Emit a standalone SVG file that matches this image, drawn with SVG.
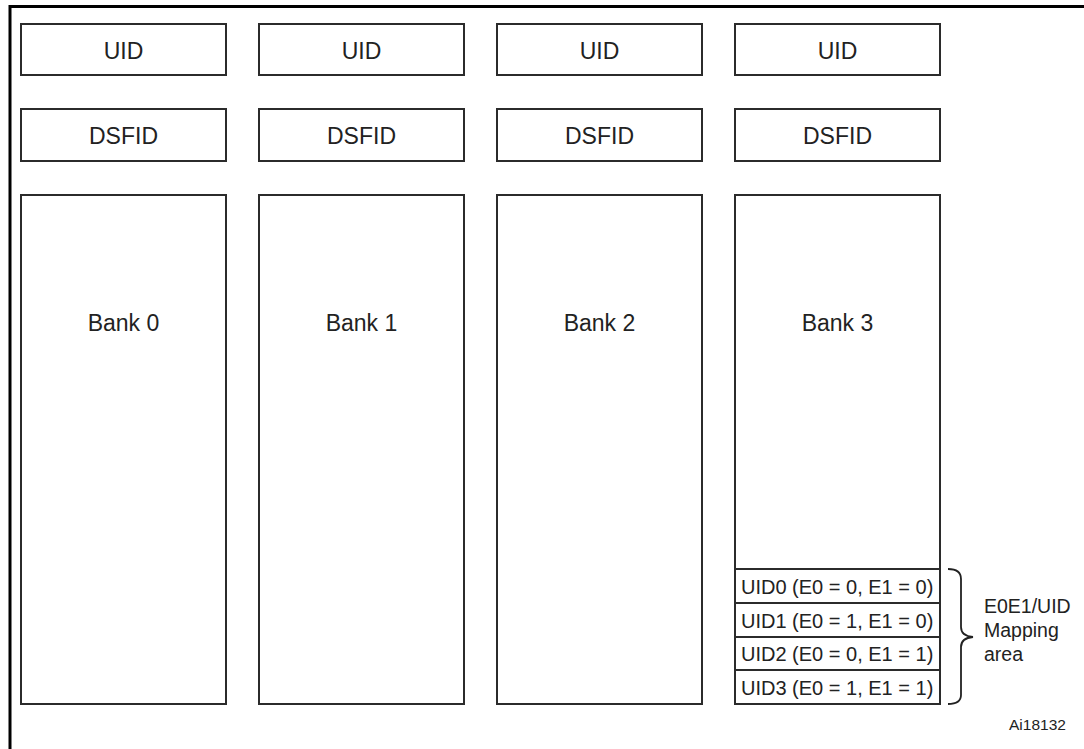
<svg xmlns="http://www.w3.org/2000/svg" width="1084" height="749" viewBox="0 0 1084 749">
<style>
.box{fill:#fff;stroke:#2b2b2b;stroke-width:2}
.t{font-family:"Liberation Sans",Arial,sans-serif;fill:#222;text-anchor:middle}
.big{font-size:23px}
.lbl{font-family:"Liberation Sans",Arial,sans-serif;fill:#222;font-size:19.5px}
.row{font-size:20px}
</style>
<rect width="1084" height="749" fill="#fff"/>
<g id="frame">
<path d="M10,749 V6.5 H1084" fill="none" stroke="#000" stroke-width="3"/>
</g>
<g id="uid0"><rect class="box" x="21" y="24" width="205" height="51"/><text class="t big" x="123.5" y="59">UID</text></g>
<g id="uid1"><rect class="box" x="259" y="24" width="205" height="51"/><text class="t big" x="361.5" y="59">UID</text></g>
<g id="uid2"><rect class="box" x="497" y="24" width="205" height="51"/><text class="t big" x="599.5" y="59">UID</text></g>
<g id="uid3"><rect class="box" x="735" y="24" width="205" height="51"/><text class="t big" x="837.5" y="59">UID</text></g>
<g id="dsfid0"><rect class="box" x="21" y="109" width="205" height="52"/><text class="t big" x="123.5" y="144">DSFID</text></g>
<g id="dsfid1"><rect class="box" x="259" y="109" width="205" height="52"/><text class="t big" x="361.5" y="144">DSFID</text></g>
<g id="dsfid2"><rect class="box" x="497" y="109" width="205" height="52"/><text class="t big" x="599.5" y="144">DSFID</text></g>
<g id="dsfid3"><rect class="box" x="735" y="109" width="205" height="52"/><text class="t big" x="837.5" y="144">DSFID</text></g>
<g id="bank0"><rect class="box" x="21" y="195" width="205" height="509"/><text class="t big" x="123.5" y="331">Bank 0</text></g>
<g id="bank1"><rect class="box" x="259" y="195" width="205" height="509"/><text class="t big" x="361.5" y="331">Bank 1</text></g>
<g id="bank2"><rect class="box" x="497" y="195" width="205" height="509"/><text class="t big" x="599.5" y="331">Bank 2</text></g>
<g id="bank3"><rect class="box" x="735" y="195" width="205" height="509"/><text class="t big" x="837.5" y="331">Bank 3</text></g>
<g id="map0"><rect class="box" x="735" y="569" width="205" height="34"/><text class="lbl row" x="741" y="593.5">UID0 (E0 = 0, E1 = 0)</text></g>
<g id="map1"><rect class="box" x="735" y="603" width="205" height="34"/><text class="lbl row" x="741" y="627.5">UID1 (E0 = 1, E1 = 0)</text></g>
<g id="map2"><rect class="box" x="735" y="637" width="205" height="33"/><text class="lbl row" x="741" y="661">UID2 (E0 = 0, E1 = 1)</text></g>
<g id="map3"><rect class="box" x="735" y="670" width="205" height="34"/><text class="lbl row" x="741" y="694.5">UID3 (E0 = 1, E1 = 1)</text></g>
<g id="connectors">
<path d="M948,569 Q961,569 961,579 V627 Q961,636 973,637 Q961,638 961,647 V695 Q961,704 948,704" fill="none" stroke="#222" stroke-width="1.8"/>
</g>
<g id="mapping-label">
<text class="lbl" x="984" y="612.5">E0E1/UID</text>
<text class="lbl" x="984" y="636.5">Mapping</text>
<text class="lbl" x="984" y="660.5">area</text>
</g>
<g id="ref"><text class="lbl" x="1009" y="730" style="font-size:15.5px">Ai18132</text></g>
</svg>
